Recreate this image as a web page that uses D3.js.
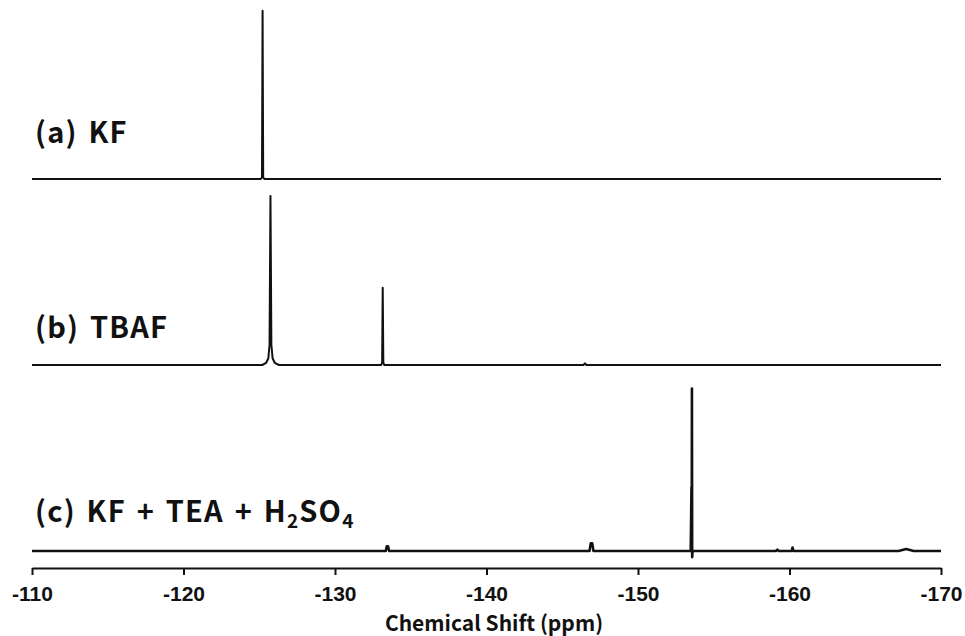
<!DOCTYPE html>
<html>
<head>
<meta charset="utf-8">
<script src="https://cdn.jsdelivr.net/npm/d3@7"></script>
<style>
  body { margin: 0; background: #fff; }
  svg { display: block; }
</style>
</head>
<body>
<svg width="965" height="636"></svg>
<script>
// ppm ticks along the x axis
var ppmTicks = [-110, -120, -130, -140, -150, -160, -170];

// spectra as [ppm, relative intensity] points
var spectrumA = [
  [-110, 0], [-125.1, 0], [-125.18, 0.01], [-125.22, 0.996], [-125.26, 0.01], [-125.34, 0], [-170, 0]
];
var spectrumB = [
  [-110, 0], [-125.2, 0], [-125.45, 0.012], [-125.6, 0.04], [-125.68, 0.12],
  [-125.74, 1.0], [-125.8, 0.12], [-125.88, 0.04], [-126.03, 0.012], [-126.3, 0],
  [-133.05, 0], [-133.11, 0.015], [-133.15, 0.457], [-133.19, 0.015], [-133.25, 0],
  [-146.4, 0], [-146.5, 0.01], [-146.6, 0], [-170, 0]
];
var spectrumC = [
  [-110, 0], [-133.35, 0], [-133.42, 0.028], [-133.5, 0.028], [-133.57, 0],
  [-146.8, 0], [-146.88, 0.045], [-146.98, 0.045], [-147.06, 0],
  [-153.48, 0], [-153.53, 0.377], [-153.545, 0], [-153.56, 0.961], [-153.575, -0.036], [-153.6, 0],
  [-159.1, 0], [-159.2, 0.008], [-159.3, 0],
  [-160.15, 0], [-160.2, 0.02], [-160.26, 0],
  [-167.2, 0], [-167.7, 0.012], [-168.2, 0], [-170, 0]
];

var spectra = [
  { key: "a", points: spectrumA },
  { key: "b", points: spectrumB },
  { key: "c", points: spectrumC }
];

var svg = d3.select("svg");

var x = d3.scaleLinear()
    .domain([-110, -170])
    .range([32, 941]);

// baseline of each trace
var offset = d3.scalePoint()
    .domain(spectra.map(function(d) { return d.key; }))
    .range([179, 551]);

var y = d3.scaleLinear()
    .domain([0, 1])
    .range([0, -169]);

var line = d3.line()
    .x(function(d) { return x(d[0]); })
    .y(function(d) { return y(d[1]); });

svg.selectAll(".trace")
    .data(spectra)
    .enter().append("path")
    .attr("class", "trace")
    .attr("transform", function(d) { return "translate(0," + offset(d.key) + ")"; })
    .attr("d", function(d) { return line(d.points); })
    .attr("fill", "none")
    .attr("stroke", "#111")
    .attr("stroke-width", function(d) { return d.key === "c" ? 2.6 : 2; })
    .attr("stroke-linejoin", "round");

// axis
var axis = svg.append("g")
    .attr("transform", "translate(0,568)")
    .call(d3.axisBottom(x)
      .tickValues(ppmTicks)
      .tickSize(7)
      .tickSizeOuter(0)
      .tickPadding(11)
      .tickFormat(function(d) { return String(d); }));

axis.select(".domain").attr("stroke", "#111").attr("stroke-width", 2);
axis.selectAll(".tick line").attr("stroke", "#111").attr("stroke-width", 2);
axis.selectAll(".tick text")
    .attr("fill", "#111")
    .style("font-family", "'Liberation Sans', Arial, sans-serif")
    .style("font-weight", "bold")
    .style("font-size", "21px");

svg.append("text")
    .attr("x", 494)
    .attr("y", 631)
    .attr("text-anchor", "middle")
    .attr("fill", "#111")
    .style("font-family", "'Noto Sans CJK JP', 'Noto Sans', sans-serif")
    .style("font-weight", "bold")
    .style("font-size", "21px")
    .text("Chemical Shift (ppm)");

// sample labels
var labelFont = "'Noto Sans CJK JP', 'Noto Sans', sans-serif";
function label(yPos) {
  return svg.append("text")
      .attr("x", 35)
      .attr("y", yPos)
      .attr("fill", "#111")
      .style("font-family", labelFont)
      .style("font-weight", "bold")
      .style("font-size", "29px")
      .style("letter-spacing", "1.2px")
      .style("word-spacing", "3px");
}

label(143).text("(a) KF");
label(338).text("(b) TBAF");

var lc = label(522);
lc.append("tspan").text("(c) KF + TEA + H");
lc.append("tspan").attr("dy", 6).style("font-size", "19px").text("2");
lc.append("tspan").attr("dy", -6).text("SO");
lc.append("tspan").attr("dy", 6).style("font-size", "19px").text("4");
</script>
</body>
</html>
